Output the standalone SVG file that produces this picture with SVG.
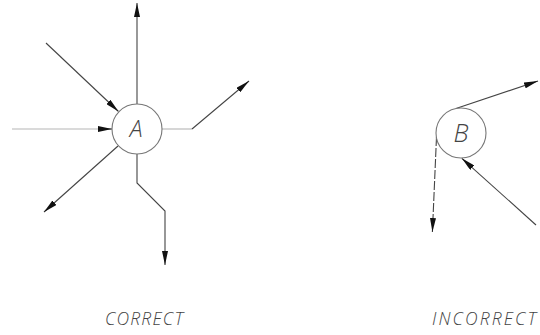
<svg xmlns="http://www.w3.org/2000/svg" width="540" height="335" viewBox="0 0 540 335">
<style>
.ln{fill:none;stroke:#444;stroke-width:1.1}
.lt{fill:none;stroke:#b5b5b5;stroke-width:1.1}
.cir{fill:#fff;stroke:#777;stroke-width:1.1}
.lbl{font-family:"Open Sans","Liberation Sans",sans-serif;font-style:italic;font-weight:300;fill:#444}
.ttl{font-family:"Open Sans","Liberation Sans",sans-serif;font-style:italic;font-weight:300;font-size:17.5px;fill:#444}
</style>
<defs>
<marker id="ah" viewBox="0 0 14 6" refX="14" refY="3" markerWidth="14" markerHeight="6" orient="auto" markerUnits="userSpaceOnUse">
<path d="M0,0 L14,3 L0,6 z" fill="#111"/>
</marker>
</defs>
<rect width="540" height="335" fill="#fff"/>
<g id="connectors">
<path class="ln" d="M137,104 V3" marker-end="url(#ah)"/>
<path class="ln" d="M46,43 L118.5,111.5" marker-end="url(#ah)"/>
<path class="lt" d="M12,129 H100"/>
<path class="ln" d="M100,129 H112" marker-end="url(#ah)"/>
<path class="lt" d="M162,129 H192"/>
<path class="ln" d="M192,129 L249,81" marker-end="url(#ah)"/>
<path class="ln" d="M118,146 L44,212" marker-end="url(#ah)"/>
<path class="ln" d="M137,154 V183 L165,211 V265" marker-end="url(#ah)"/>
<path class="ln" d="M456,108.5 L538,81" marker-end="url(#ah)"/>
<path class="ln" d="M436.5,137 L433,218" stroke-dasharray="9 2"/>
<path class="ln" d="M433,218 L432.4,232" marker-end="url(#ah)"/>
<path class="ln" d="M536,225 L461.8,158.3" marker-end="url(#ah)"/>
</g>
<g id="nodeA">
<circle class="cir" cx="137" cy="129" r="25"/>
<text class="lbl" x="136" y="137" font-size="23" text-anchor="middle">A</text>
</g>
<g id="nodeB">
<circle class="cir" cx="461" cy="133" r="25" fill="none"/>
<text class="lbl" x="461" y="142" font-size="25" text-anchor="middle">B</text>
</g>
<g id="captions">
<text class="ttl" x="105" y="325" textLength="78" lengthAdjust="spacing">CORRECT</text>
<text class="ttl" x="432" y="325" textLength="104" lengthAdjust="spacing">INCORRECT</text>
</g>
</svg>
